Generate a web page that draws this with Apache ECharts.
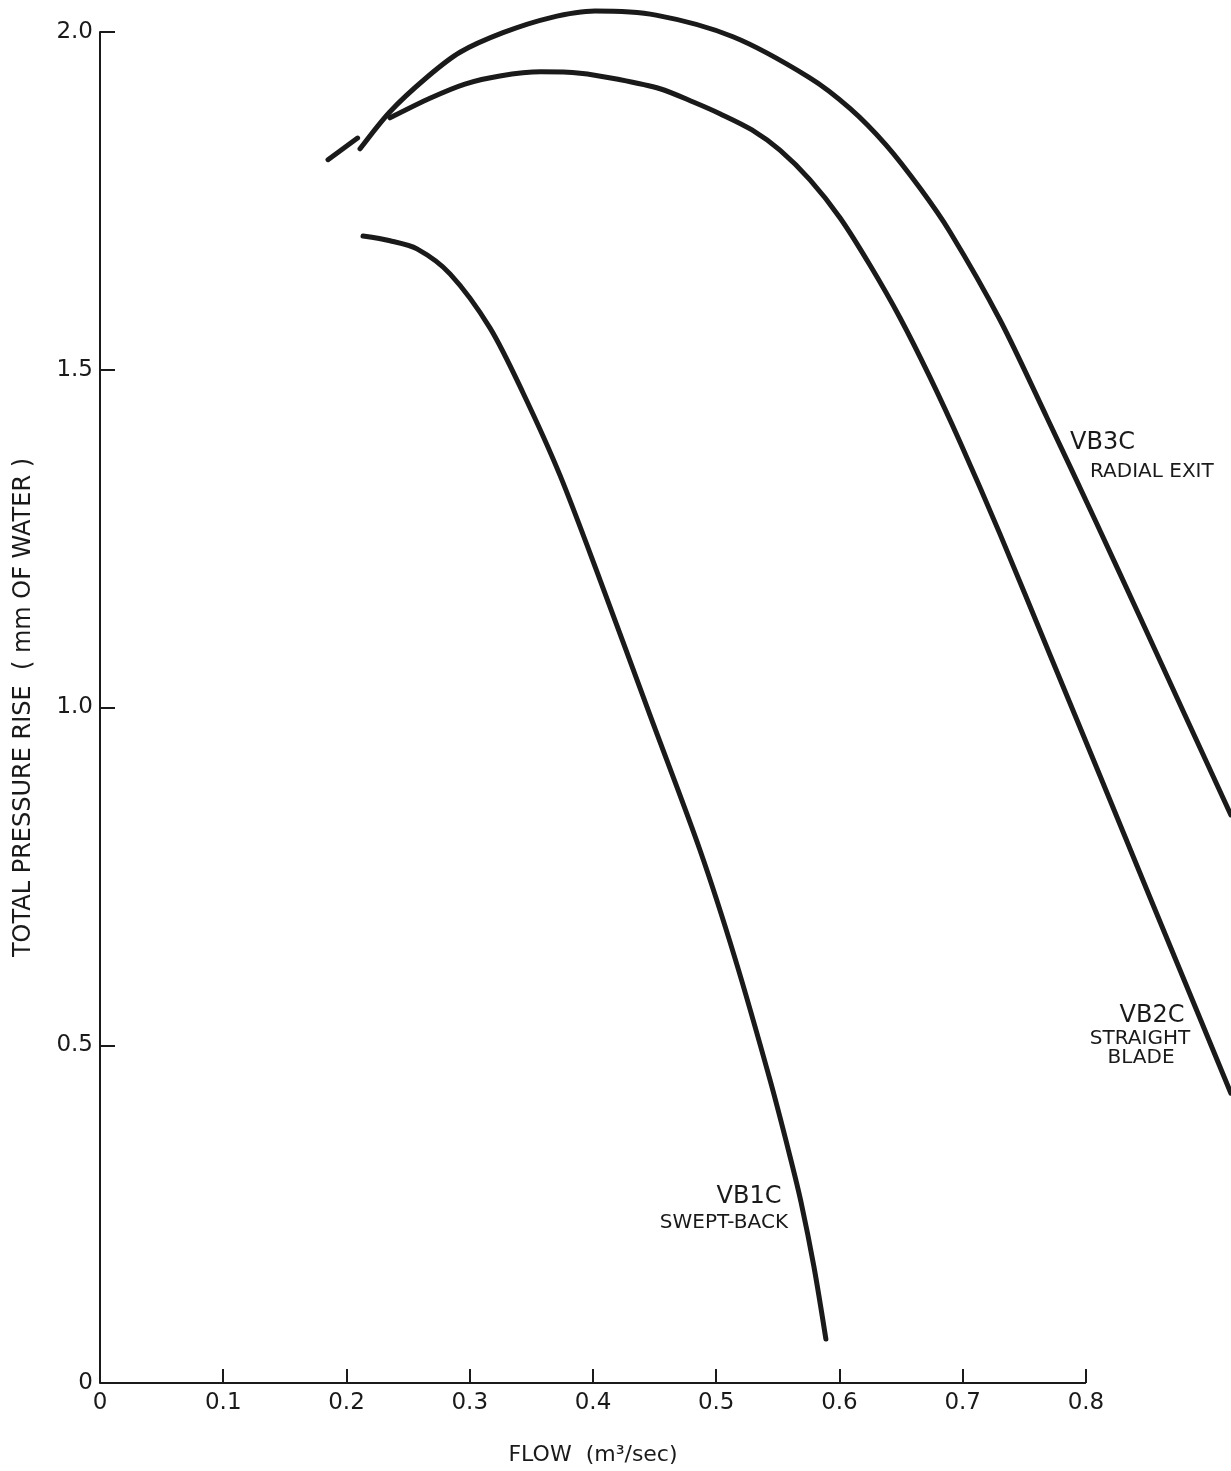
<!DOCTYPE html>
<html>
<head>
<meta charset="utf-8">
<script src="https://cdn.jsdelivr.net/npm/echarts@6/dist/echarts.min.js"></script>
<style>
html,body{margin:0;padding:0;background:#fff;}
#chart{width:1231px;height:1471px;}
</style>
</head>
<body>
<div id="chart"></div>
<script>
// Flow (m^3/sec) and total pressure rise (mm of water)
const vb1cFlow = [0.2134,0.2353,0.2572,0.2840,0.3164,0.3432,0.3732,0.4057,0.4462,0.4868,0.5152,0.5436,0.5598,0.5688,0.5793,0.5890];
const vb1cRise = [1.698,1.691,1.679,1.642,1.562,1.466,1.344,1.189,0.989,0.789,0.629,0.449,0.336,0.268,0.172,0.065];

const vb2cFlowA = [0.185,0.209];
const vb2cRiseA = [1.811,1.843];
const vb2cFlow = [0.2353,0.2677,0.2961,0.3245,0.3578,0.3895,0.4203,0.4544,0.4819,0.5030,0.5290,0.5517,0.5761,0.6004,0.6247,0.6491,0.6734,0.6978,0.7302,0.7708,0.8114,0.8519,0.8925,0.9176];
const vb2cRise = [1.873,1.902,1.923,1.935,1.941,1.939,1.930,1.916,1.896,1.879,1.855,1.825,1.781,1.725,1.655,1.577,1.489,1.393,1.257,1.078,0.899,0.719,0.540,0.429];

const vb3cFlow = [0.2110,0.2353,0.2653,0.2921,0.3270,0.3651,0.4016,0.4511,0.5136,0.5753,0.6085,0.6377,0.6653,0.6897,0.7302,0.7684,0.8073,0.8438,0.8803,0.9176];
const vb3cRise = [1.827,1.882,1.933,1.970,1.999,2.021,2.031,2.025,1.993,1.933,1.887,1.833,1.769,1.704,1.574,1.429,1.278,1.134,0.989,0.841];

const xTicks = [0,0.1,0.2,0.3,0.4,0.5,0.6,0.7,0.8];
const yTicks = [0,0.5,1.0,1.5,2.0];

function pairs(xs, ys){ return xs.map((x,i)=>[x, ys[i]]); }

const FONT = 'DejaVu Sans';
const INK = '#1a1a1a';

const lineStyle = {color: INK, width: 5, cap: 'round', join: 'round'};
function curve(name, data, extra){
  return Object.assign({
    name, type: 'line', data, smooth: 0.3, showSymbol: false, symbol: 'none',
    clip: false, lineStyle, itemStyle:{color: INK}, silent: true, animation: false
  }, extra || {});
}

const fmt = v => v === 0 ? '0' : v.toFixed(1);

const chart = echarts.init(document.getElementById('chart'), null, {renderer:'canvas'});
chart.setOption({
  backgroundColor: '#ffffff',
  animation: false,
  grid: {left: 100, right: 0, top: 32, bottom: 88, containLabel: false, outerBoundsMode: 'none'},
  xAxis: {
    type: 'value', min: 0, max: 0.9177,
    axisLine: {show: false},
    axisTick: {show: true, inside: true, length: 14, customValues: xTicks, lineStyle: {color: INK, width: 2}},
    axisLabel: {fontFamily: FONT, fontSize: 23, color: INK, margin: 9, customValues: xTicks, formatter: fmt},
    splitLine: {show: false}
  },
  yAxis: {
    type: 'value', min: 0, max: 2.0, interval: 0.5,
    name: 'TOTAL PRESSURE RISE  ( mm OF WATER )', nameLocation: 'middle', nameGap: 64, nameRotate: 90,
    nameTextStyle: {fontFamily: FONT, fontSize: 24, color: INK},
    axisLine: {show: true, onZero: false, lineStyle: {color: INK, width: 2}},
    axisTick: {show: true, inside: true, length: 15, lineStyle: {color: INK, width: 2}},
    axisLabel: {fontFamily: FONT, fontSize: 23, color: INK, margin: 7, formatter: fmt},
    splitLine: {show: false}
  },
  series: [
    curve('VB1C', pairs(vb1cFlow, vb1cRise), {
      markLine: {
        silent: true, symbol: ['none','none'], animation: false,
        label: {show: false},
        lineStyle: {color: INK, width: 2, type: 'solid'},
        emphasis: {disabled: true},
        data: [[{coord: [xTicks[0], 0]}, {coord: [xTicks[xTicks.length-1], 0]}]]
      }
    }),
    curve('VB2C', pairs(vb2cFlowA, vb2cRiseA).concat([[null,null]], pairs(vb2cFlow, vb2cRise))),
    curve('VB3C', pairs(vb3cFlow, vb3cRise))
  ],
  graphic: [
    {type:'text', x: 593, y: 1455, style:{text:'FLOW  (m³/sec)', font:'22px "DejaVu Sans"', fill: INK, align:'center', verticalAlign:'middle'}},
    {type:'text', x: 1070, y: 443, style:{text:'VB3C', font:'24px "DejaVu Sans"', fill: INK, align:'left', verticalAlign:'middle'}},
    {type:'text', x: 1090, y: 472, style:{text:'RADIAL EXIT', font:'20px "DejaVu Sans"', fill: INK, align:'left', verticalAlign:'middle'}},
    {type:'text', x: 1152, y: 1016, style:{text:'VB2C', font:'24px "DejaVu Sans"', fill: INK, align:'center', verticalAlign:'middle'}},
    {type:'text', x: 1140, y: 1039, style:{text:'STRAIGHT', font:'20px "DejaVu Sans"', fill: INK, align:'center', verticalAlign:'middle'}},
    {type:'text', x: 1141, y: 1058, style:{text:'BLADE', font:'20px "DejaVu Sans"', fill: INK, align:'center', verticalAlign:'middle'}},
    {type:'text', x: 749, y: 1197, style:{text:'VB1C', font:'24px "DejaVu Sans"', fill: INK, align:'center', verticalAlign:'middle'}},
    {type:'text', x: 788, y: 1223, style:{text:'SWEPT-BACK', font:'20px "DejaVu Sans"', fill: INK, align:'right', verticalAlign:'middle'}}
  ]
});
</script>
</body>
</html>
